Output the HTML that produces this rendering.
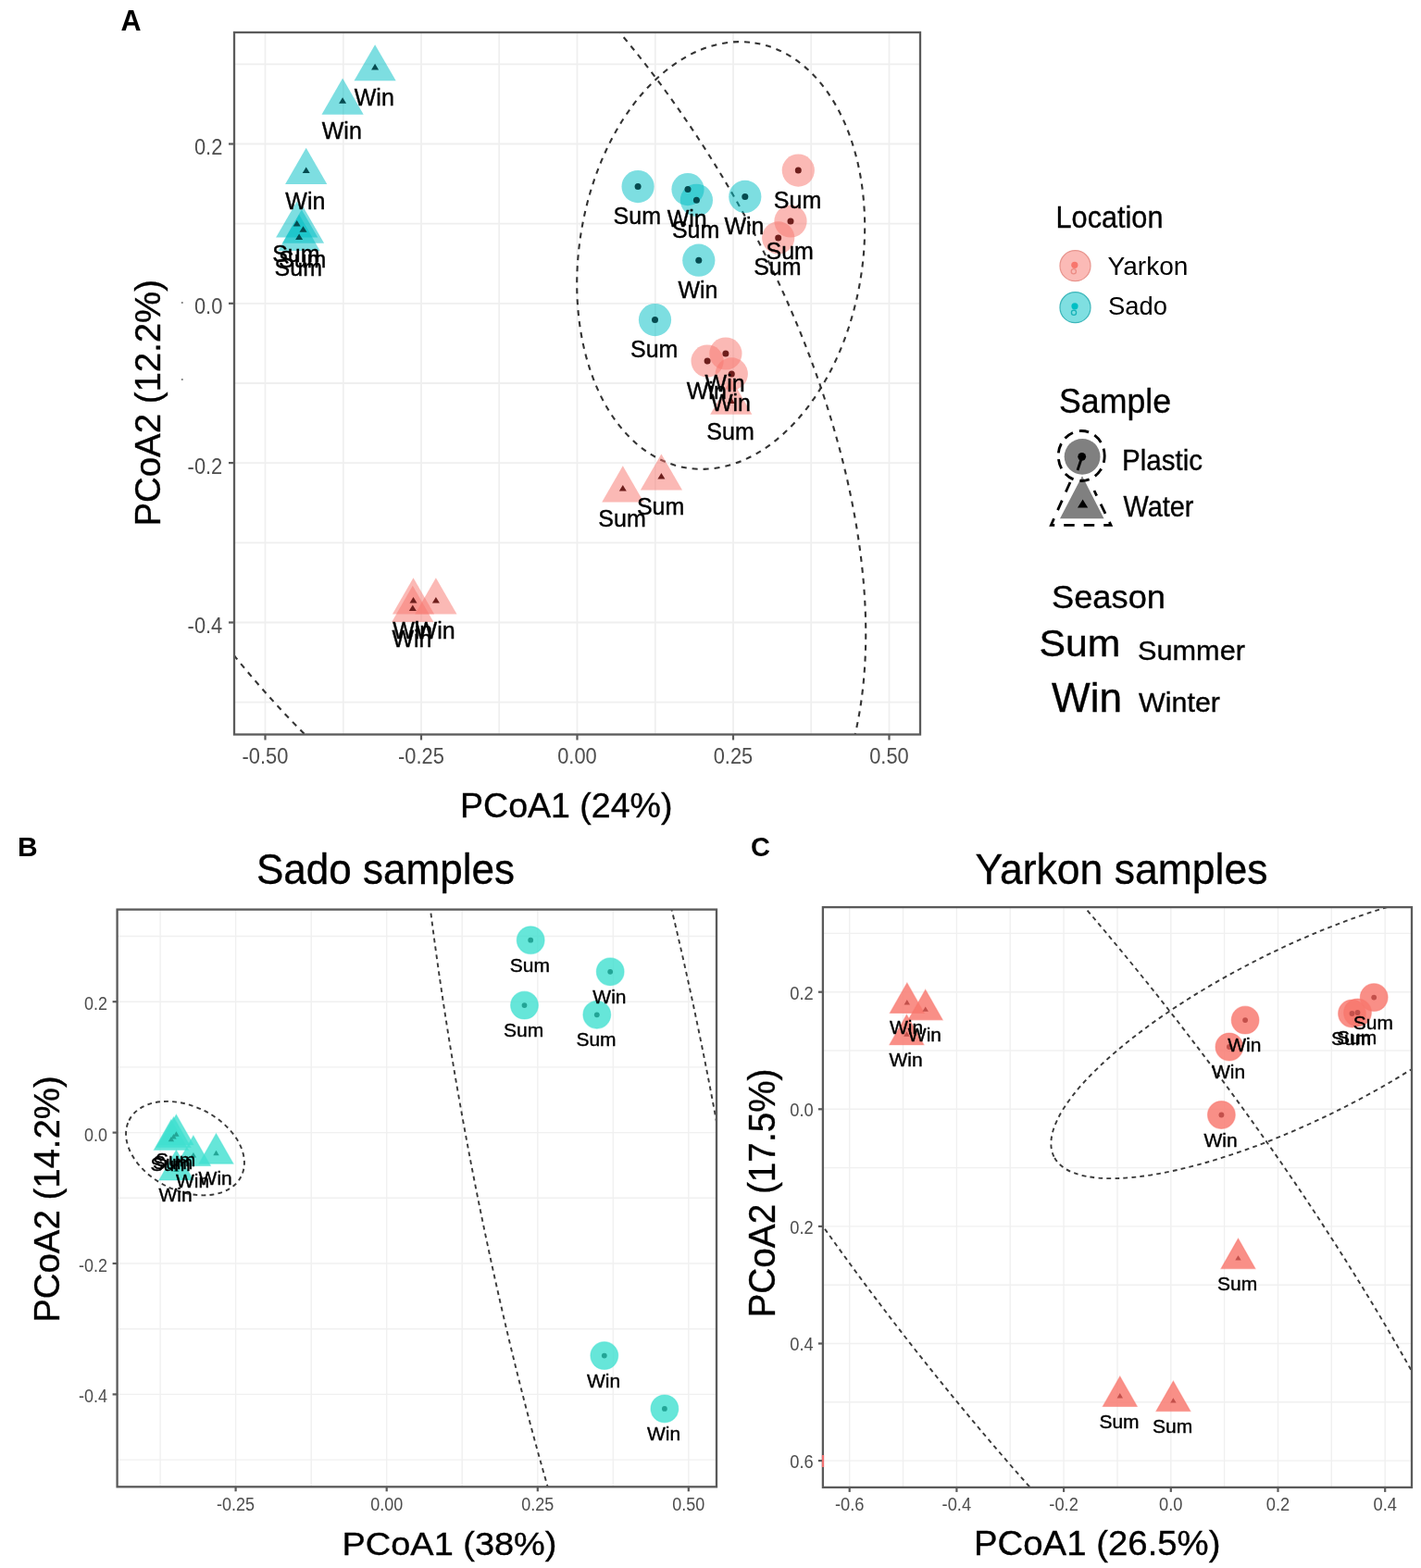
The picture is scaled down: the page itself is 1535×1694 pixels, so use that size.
<!DOCTYPE html>
<html><head><meta charset="utf-8"><title>PCoA plots</title>
<style>html,body{margin:0;padding:0;background:#fff;}svg{display:block;}</style>
</head><body>
<svg width="1535" height="1694" viewBox="0 0 1535 1694">
<rect width="1535" height="1694" fill="#fff"/>
<defs>
<clipPath id="cA"><rect x="253" y="35" width="741" height="758.5"/></clipPath>
<clipPath id="cB"><rect x="126.6" y="982.6" width="647.4" height="623.7"/></clipPath>
<clipPath id="cC"><rect x="888.9" y="980.1" width="636.1" height="626.8"/></clipPath>
</defs>
<g stroke="#EFEFEF" stroke-width="1.8" fill="none">
<line x1="286.5" y1="35" x2="286.5" y2="793.5"/>
<line x1="455.0" y1="35" x2="455.0" y2="793.5"/>
<line x1="623.5" y1="35" x2="623.5" y2="793.5"/>
<line x1="792.0" y1="35" x2="792.0" y2="793.5"/>
<line x1="960.5" y1="35" x2="960.5" y2="793.5"/>
<line x1="370.8" y1="35" x2="370.8" y2="793.5"/>
<line x1="539.2" y1="35" x2="539.2" y2="793.5"/>
<line x1="707.8" y1="35" x2="707.8" y2="793.5"/>
<line x1="876.2" y1="35" x2="876.2" y2="793.5"/>
<line x1="253" y1="155.5" x2="994" y2="155.5"/>
<line x1="253" y1="327.8" x2="994" y2="327.8"/>
<line x1="253" y1="500.1" x2="994" y2="500.1"/>
<line x1="253" y1="672.5" x2="994" y2="672.5"/>
<line x1="253" y1="69.3" x2="994" y2="69.3"/>
<line x1="253" y1="241.6" x2="994" y2="241.6"/>
<line x1="253" y1="414.0" x2="994" y2="414.0"/>
<line x1="253" y1="586.3" x2="994" y2="586.3"/>
<line x1="253" y1="758.7" x2="994" y2="758.7"/>
</g>
<g clip-path="url(#cA)">
<g fill="none" stroke="#333" stroke-width="2.1" stroke-dasharray="6 6">
<ellipse cx="778.7" cy="276.0" rx="232.5" ry="153.0" transform="rotate(-80.91 778.7 276.0)"/>
<ellipse cx="468.2" cy="380.2" rx="675.1" ry="365.0" transform="rotate(-120.87 468.2 380.2)"/>
</g>
<polygon points="405.1,48.2 427.7,87.3 382.5,87.3" fill="#00BFC4" fill-opacity="0.51"/>
<polygon points="370.1,84.6 392.7,123.7 347.5,123.7" fill="#00BFC4" fill-opacity="0.51"/>
<polygon points="330.7,159.8 353.3,198.9 308.1,198.9" fill="#00BFC4" fill-opacity="0.51"/>
<polygon points="320.7,217.4 343.3,256.5 298.1,256.5" fill="#00BFC4" fill-opacity="0.51"/>
<polygon points="327.5,223.6 350.1,262.7 304.9,262.7" fill="#00BFC4" fill-opacity="0.51"/>
<polygon points="323.1,231.8 345.7,270.9 300.5,270.9" fill="#00BFC4" fill-opacity="0.51"/>
<polygon points="789.8,408.7 812.4,447.8 767.2,447.8" fill="#F8766D" fill-opacity="0.51"/>
<polygon points="672.8,503.3 695.4,542.4 650.2,542.4" fill="#F8766D" fill-opacity="0.51"/>
<polygon points="714.4,490.4 737.0,529.5 691.8,529.5" fill="#F8766D" fill-opacity="0.51"/>
<polygon points="446.5,624.3 469.1,663.4 423.9,663.4" fill="#F8766D" fill-opacity="0.51"/>
<polygon points="445.8,632.8 468.4,671.9 423.2,671.9" fill="#F8766D" fill-opacity="0.51"/>
<polygon points="470.9,624.3 493.5,663.4 448.3,663.4" fill="#F8766D" fill-opacity="0.51"/>
<circle cx="689.1" cy="201.6" r="17.6" fill="#00BFC4" fill-opacity="0.51"/>
<circle cx="743" cy="204.6" r="17.6" fill="#00BFC4" fill-opacity="0.51"/>
<circle cx="752.4" cy="216.3" r="17.6" fill="#00BFC4" fill-opacity="0.51"/>
<circle cx="804.8" cy="212.4" r="17.6" fill="#00BFC4" fill-opacity="0.51"/>
<circle cx="754.8" cy="281.2" r="17.6" fill="#00BFC4" fill-opacity="0.51"/>
<circle cx="707.5" cy="345.6" r="17.6" fill="#00BFC4" fill-opacity="0.51"/>
<circle cx="862.3" cy="184.1" r="17.6" fill="#F8766D" fill-opacity="0.51"/>
<circle cx="854" cy="239" r="17.6" fill="#F8766D" fill-opacity="0.51"/>
<circle cx="840.7" cy="256.9" r="17.6" fill="#F8766D" fill-opacity="0.51"/>
<circle cx="764.1" cy="390.1" r="17.6" fill="#F8766D" fill-opacity="0.51"/>
<circle cx="783.9" cy="382" r="17.6" fill="#F8766D" fill-opacity="0.51"/>
<circle cx="790.3" cy="403.9" r="17.6" fill="#F8766D" fill-opacity="0.51"/>
<polygon points="405.1,68.8 409.1,75.4 401.1,75.4" fill="#054B50"/>
<polygon points="370.1,105.2 374.1,111.8 366.1,111.8" fill="#054B50"/>
<polygon points="330.7,180.4 334.7,187.0 326.7,187.0" fill="#054B50"/>
<polygon points="320.7,238.0 324.7,244.6 316.7,244.6" fill="#054B50"/>
<polygon points="327.5,244.2 331.5,250.8 323.5,250.8" fill="#054B50"/>
<polygon points="323.1,252.4 327.1,259.0 319.1,259.0" fill="#054B50"/>
<polygon points="789.8,429.3 793.8,435.9 785.8,435.9" fill="#6E1E1C"/>
<polygon points="672.8,523.9 676.8,530.5 668.8,530.5" fill="#6E1E1C"/>
<polygon points="714.4,511.0 718.4,517.6 710.4,517.6" fill="#6E1E1C"/>
<polygon points="446.5,644.9 450.5,651.5 442.5,651.5" fill="#6E1E1C"/>
<polygon points="445.8,653.4 449.8,660.0 441.8,660.0" fill="#6E1E1C"/>
<polygon points="470.9,644.9 474.9,651.5 466.9,651.5" fill="#6E1E1C"/>
<circle cx="689.1" cy="201.6" r="3.5" fill="#054B50"/>
<circle cx="743" cy="204.6" r="3.5" fill="#054B50"/>
<circle cx="752.4" cy="216.3" r="3.5" fill="#054B50"/>
<circle cx="804.8" cy="212.4" r="3.5" fill="#054B50"/>
<circle cx="754.8" cy="281.2" r="3.5" fill="#054B50"/>
<circle cx="707.5" cy="345.6" r="3.5" fill="#054B50"/>
<circle cx="862.3" cy="184.1" r="3.5" fill="#6E1E1C"/>
<circle cx="854" cy="239" r="3.5" fill="#6E1E1C"/>
<circle cx="840.7" cy="256.9" r="3.5" fill="#6E1E1C"/>
<circle cx="764.1" cy="390.1" r="3.5" fill="#6E1E1C"/>
<circle cx="783.9" cy="382" r="3.5" fill="#6E1E1C"/>
<circle cx="790.3" cy="403.9" r="3.5" fill="#6E1E1C"/>
</g>
<g font-family="Liberation Sans, Arial, sans-serif" font-size="25" fill="#000" stroke="#000" stroke-width="0.4" text-anchor="middle">
<text x="404.3" y="114.0">Win</text>
<text x="369.3" y="150.4">Win</text>
<text x="329.9" y="225.6">Win</text>
<text x="319.9" y="283.2">Sum</text>
<text x="326.7" y="289.4">Sum</text>
<text x="322.3" y="297.6">Sum</text>
<text x="789.0" y="474.5">Sum</text>
<text x="672.0" y="569.1">Sum</text>
<text x="713.6" y="556.2">Sum</text>
<text x="445.7" y="690.1">Win</text>
<text x="445.0" y="698.6">Win</text>
<text x="470.1" y="690.1">Win</text>
<text x="688.3" y="242.1">Sum</text>
<text x="742.2" y="245.1">Win</text>
<text x="751.6" y="256.8">Sum</text>
<text x="804.0" y="252.9">Win</text>
<text x="754.0" y="321.7">Win</text>
<text x="706.7" y="386.1">Sum</text>
<text x="861.5" y="224.6">Sum</text>
<text x="853.2" y="279.5">Sum</text>
<text x="839.9" y="297.4">Sum</text>
<text x="763.3" y="430.6">Win</text>
<text x="783.1" y="422.5">Win</text>
<text x="789.5" y="444.4">Win</text>
</g>
<rect x="253" y="35" width="741.0" height="758.5" fill="none" stroke="#5a5a5a" stroke-width="2.3"/>
<g stroke="#5a5a5a" stroke-width="2.2">
<line x1="286.5" y1="793.5" x2="286.5" y2="799.5"/>
<line x1="455.0" y1="793.5" x2="455.0" y2="799.5"/>
<line x1="623.5" y1="793.5" x2="623.5" y2="799.5"/>
<line x1="792.0" y1="793.5" x2="792.0" y2="799.5"/>
<line x1="960.5" y1="793.5" x2="960.5" y2="799.5"/>
<line x1="247" y1="155.5" x2="253" y2="155.5"/>
<line x1="247" y1="327.8" x2="253" y2="327.8"/>
<line x1="247" y1="500.1" x2="253" y2="500.1"/>
<line x1="247" y1="672.5" x2="253" y2="672.5"/>
</g>
<g font-family="Liberation Sans, Arial, sans-serif" font-size="23.5" fill="#4D4D4D">
<text x="261.6" y="824.8" textLength="49.8" lengthAdjust="spacingAndGlyphs">-0.50</text>
<text x="430.1" y="824.8" textLength="49.8" lengthAdjust="spacingAndGlyphs">-0.25</text>
<text x="602.2" y="824.8" textLength="42.5" lengthAdjust="spacingAndGlyphs">0.00</text>
<text x="770.7" y="824.8" textLength="42.5" lengthAdjust="spacingAndGlyphs">0.25</text>
<text x="939.2" y="824.8" textLength="42.5" lengthAdjust="spacingAndGlyphs">0.50</text>
<text x="209.9" y="166.9" textLength="30.4" lengthAdjust="spacingAndGlyphs">0.2</text>
<text x="209.9" y="339.2" textLength="30.4" lengthAdjust="spacingAndGlyphs">0.0</text>
<text x="202.6" y="511.5" textLength="37.7" lengthAdjust="spacingAndGlyphs">-0.2</text>
<text x="202.6" y="683.9" textLength="37.7" lengthAdjust="spacingAndGlyphs">-0.4</text>
</g>
<circle cx="196.8" cy="327" r="1.1" fill="#777"/><circle cx="196.8" cy="410" r="1.1" fill="#777"/>
<text font-family="Liberation Sans, Arial, sans-serif" font-size="36.7" x="497" y="883.1" textLength="229.5" lengthAdjust="spacingAndGlyphs" stroke="#000" stroke-width="0.35">PCoA1 (24%)</text>
<text font-family="Liberation Sans, Arial, sans-serif" font-size="38" transform="translate(172.5 568.5) rotate(-90)" textLength="266.5" lengthAdjust="spacingAndGlyphs" stroke="#000" stroke-width="0.35">PCoA2 (12.2%)</text>
<text font-family="Liberation Sans, Arial, sans-serif" font-size="30.5" font-weight="bold" x="130.5" y="33.1">A</text>
<g font-family="Liberation Sans, Arial, sans-serif" fill="#000" stroke="#000" stroke-width="0.35">
<text x="1140.5" y="246.1" font-size="33" textLength="116" lengthAdjust="spacingAndGlyphs">Location</text>
<text x="1196.5" y="296.9" font-size="27.6" textLength="87" lengthAdjust="spacingAndGlyphs" stroke-width="0">Yarkon</text>
<text x="1197" y="339.7" font-size="27.6" textLength="64" lengthAdjust="spacingAndGlyphs" stroke-width="0">Sado</text>
<text x="1144" y="445.7" font-size="37" textLength="121" lengthAdjust="spacingAndGlyphs">Sample</text>
<text x="1212" y="507.6" font-size="30.7" textLength="87" lengthAdjust="spacingAndGlyphs">Plastic</text>
<text x="1213.5" y="558.4" font-size="30.7" textLength="76" lengthAdjust="spacingAndGlyphs">Water</text>
<text x="1136" y="656.6" font-size="35.5" textLength="123" lengthAdjust="spacingAndGlyphs">Season</text>
<text x="1122.5" y="709.1" font-size="41.5" textLength="88" lengthAdjust="spacingAndGlyphs">Sum</text>
<text x="1229" y="712.5" font-size="30" textLength="116" lengthAdjust="spacingAndGlyphs">Summer</text>
<text x="1136" y="769.2" font-size="44" textLength="76" lengthAdjust="spacingAndGlyphs">Win</text>
<text x="1230" y="769.2" font-size="29.6" textLength="88" lengthAdjust="spacingAndGlyphs">Winter</text>
</g>
<circle cx="1161.5" cy="287.2" r="16.5" fill="#F8766D" fill-opacity="0.5" stroke="#E8958E" stroke-width="1.2"/>
<circle cx="1160.8" cy="286.3" r="3.6" fill="#F8766D"/>
<circle cx="1159.8" cy="293.2" r="2.6" fill="none" stroke="#EC8C85" stroke-width="1.3"/>
<circle cx="1161.5" cy="332.2" r="16.5" fill="#00BFC4" fill-opacity="0.5" stroke="#3CB6BA" stroke-width="1.2"/>
<circle cx="1161" cy="330.8" r="3.6" fill="#00BFC4"/>
<circle cx="1160" cy="337.8" r="2.6" fill="none" stroke="#19B3B8" stroke-width="1.3"/>
<circle cx="1169.1" cy="493.3" r="19.4" fill="#808080"/>
<polygon points="1169,514.3 1192.5,560.2 1145,560.2" fill="#808080"/>
<ellipse cx="1168.2" cy="492.5" rx="25" ry="27" fill="none" stroke="#000" stroke-width="2.8" stroke-dasharray="10.5 7" stroke-dashoffset="3"/>
<circle cx="1168.7" cy="493.3" r="4.4" fill="#000"/>
<line x1="1168.7" y1="494" x2="1164" y2="508" stroke="#000" stroke-width="2.8"/>
<polygon points="1169.6,539.5 1175.2,548.6 1164.0,548.6" fill="#000"/>
<polyline points="1156,521 1135.4,567.3 1200,567.3 1182,530" fill="none" stroke="#000" stroke-width="2.8" stroke-dasharray="11.5 10"/>
<g stroke="#F0F0F0" stroke-width="1.4" fill="none">
<line x1="254.6" y1="982.6" x2="254.6" y2="1606.3"/>
<line x1="417.7" y1="982.6" x2="417.7" y2="1606.3"/>
<line x1="580.8" y1="982.6" x2="580.8" y2="1606.3"/>
<line x1="743.8" y1="982.6" x2="743.8" y2="1606.3"/>
<line x1="173.1" y1="982.6" x2="173.1" y2="1606.3"/>
<line x1="336.2" y1="982.6" x2="336.2" y2="1606.3"/>
<line x1="499.2" y1="982.6" x2="499.2" y2="1606.3"/>
<line x1="662.3" y1="982.6" x2="662.3" y2="1606.3"/>
<line x1="126.6" y1="1082.2" x2="774" y2="1082.2"/>
<line x1="126.6" y1="1223.6" x2="774" y2="1223.6"/>
<line x1="126.6" y1="1365.0" x2="774" y2="1365.0"/>
<line x1="126.6" y1="1506.4" x2="774" y2="1506.4"/>
<line x1="126.6" y1="1011.5" x2="774" y2="1011.5"/>
<line x1="126.6" y1="1152.9" x2="774" y2="1152.9"/>
<line x1="126.6" y1="1294.3" x2="774" y2="1294.3"/>
<line x1="126.6" y1="1435.7" x2="774" y2="1435.7"/>
<line x1="126.6" y1="1577.1" x2="774" y2="1577.1"/>
</g>
<g clip-path="url(#cB)">
<g fill="none" stroke="#3a3a3a" stroke-width="1.9" stroke-dasharray="4.8 4.2">
<ellipse cx="200.0" cy="1240.6" rx="67.7" ry="45.6" transform="rotate(-153.57 200.0 1240.6)"/>
<ellipse cx="637.9" cy="1215.8" rx="779.0" ry="134.5" transform="rotate(-100.69 637.9 1215.8)"/>
</g>
<polygon points="190.4,1204.2 208.9,1236.7 171.9,1236.7" fill="#40E0D0" fill-opacity="0.8" stroke="#40E0D0" stroke-opacity="0.45" stroke-width="1.2"/>
<polygon points="184.9,1209.8 203.4,1242.3 166.4,1242.3" fill="#40E0D0" fill-opacity="0.8" stroke="#40E0D0" stroke-opacity="0.45" stroke-width="1.2"/>
<polygon points="187.5,1207.0 206.0,1239.5 169.0,1239.5" fill="#40E0D0" fill-opacity="0.8" stroke="#40E0D0" stroke-opacity="0.45" stroke-width="1.2"/>
<polygon points="208.9,1227.0 227.4,1259.5 190.4,1259.5" fill="#40E0D0" fill-opacity="0.8" stroke="#40E0D0" stroke-opacity="0.45" stroke-width="1.2"/>
<polygon points="233.5,1224.7 252.0,1257.2 215.0,1257.2" fill="#40E0D0" fill-opacity="0.8" stroke="#40E0D0" stroke-opacity="0.45" stroke-width="1.2"/>
<polygon points="190.4,1242.5 208.9,1275.0 171.9,1275.0" fill="#40E0D0" fill-opacity="0.8" stroke="#40E0D0" stroke-opacity="0.45" stroke-width="1.2"/>
<circle cx="573.2" cy="1015.7" r="14.9" fill="#40E0D0" fill-opacity="0.8" stroke="#40E0D0" stroke-opacity="0.45" stroke-width="1.2"/>
<circle cx="659.2" cy="1049.8" r="14.9" fill="#40E0D0" fill-opacity="0.8" stroke="#40E0D0" stroke-opacity="0.45" stroke-width="1.2"/>
<circle cx="566.5" cy="1086.1" r="14.9" fill="#40E0D0" fill-opacity="0.8" stroke="#40E0D0" stroke-opacity="0.45" stroke-width="1.2"/>
<circle cx="644.8" cy="1096.3" r="14.9" fill="#40E0D0" fill-opacity="0.8" stroke="#40E0D0" stroke-opacity="0.45" stroke-width="1.2"/>
<circle cx="652.8" cy="1464.6" r="14.9" fill="#40E0D0" fill-opacity="0.8" stroke="#40E0D0" stroke-opacity="0.45" stroke-width="1.2"/>
<circle cx="717.9" cy="1521.9" r="14.9" fill="#40E0D0" fill-opacity="0.8" stroke="#40E0D0" stroke-opacity="0.45" stroke-width="1.2"/>
<polygon points="190.4,1222.3 193.6,1227.7 187.2,1227.7" fill="#23A596"/>
<polygon points="184.9,1227.9 188.1,1233.3 181.7,1233.3" fill="#23A596"/>
<polygon points="187.5,1225.1 190.7,1230.5 184.3,1230.5" fill="#23A596"/>
<polygon points="208.9,1245.1 212.1,1250.5 205.7,1250.5" fill="#23A596"/>
<polygon points="233.5,1242.8 236.7,1248.2 230.3,1248.2" fill="#23A596"/>
<polygon points="190.4,1260.6 193.6,1266.0 187.2,1266.0" fill="#23A596"/>
<circle cx="573.2" cy="1015.7" r="2.9" fill="#23A596"/>
<circle cx="659.2" cy="1049.8" r="2.9" fill="#23A596"/>
<circle cx="566.5" cy="1086.1" r="2.9" fill="#23A596"/>
<circle cx="644.8" cy="1096.3" r="2.9" fill="#23A596"/>
<circle cx="652.8" cy="1464.6" r="2.9" fill="#23A596"/>
<circle cx="717.9" cy="1521.9" r="2.9" fill="#23A596"/>
</g>
<g font-family="Liberation Sans, Arial, sans-serif" font-size="21" fill="#000" stroke="#000" stroke-width="0.4" text-anchor="middle">
<text x="189.6" y="1259.7">Sum</text>
<text x="184.1" y="1265.3">Sum</text>
<text x="186.7" y="1262.5">Sum</text>
<text x="208.1" y="1282.5">Win</text>
<text x="232.7" y="1280.2">Win</text>
<text x="189.6" y="1298.0">Win</text>
<text x="572.4" y="1049.7">Sum</text>
<text x="658.4" y="1083.8">Win</text>
<text x="565.7" y="1120.1">Sum</text>
<text x="644.0" y="1130.3">Sum</text>
<text x="652.0" y="1498.6">Win</text>
<text x="717.1" y="1555.9">Win</text>
</g>
<rect x="126.6" y="982.6" width="647.4" height="623.7" fill="none" stroke="#5a5a5a" stroke-width="2.3"/>
<g stroke="#5a5a5a" stroke-width="2.2">
<line x1="254.6" y1="1606.3" x2="254.6" y2="1611.3"/>
<line x1="417.7" y1="1606.3" x2="417.7" y2="1611.3"/>
<line x1="580.8" y1="1606.3" x2="580.8" y2="1611.3"/>
<line x1="743.8" y1="1606.3" x2="743.8" y2="1611.3"/>
<line x1="121.6" y1="1082.2" x2="126.6" y2="1082.2"/>
<line x1="121.6" y1="1223.6" x2="126.6" y2="1223.6"/>
<line x1="121.6" y1="1365.0" x2="126.6" y2="1365.0"/>
<line x1="121.6" y1="1506.4" x2="126.6" y2="1506.4"/>
</g>
<g font-family="Liberation Sans, Arial, sans-serif" font-size="20" fill="#4D4D4D">
<text x="234.1" y="1631.7" textLength="41.0" lengthAdjust="spacingAndGlyphs">-0.25</text>
<text x="400.2" y="1631.7" textLength="35.0" lengthAdjust="spacingAndGlyphs">0.00</text>
<text x="563.3" y="1631.7" textLength="35.0" lengthAdjust="spacingAndGlyphs">0.25</text>
<text x="726.3" y="1631.7" textLength="35.0" lengthAdjust="spacingAndGlyphs">0.50</text>
<text x="91.1" y="1091.2" textLength="25.0" lengthAdjust="spacingAndGlyphs">0.2</text>
<text x="91.1" y="1232.6" textLength="25.0" lengthAdjust="spacingAndGlyphs">0.0</text>
<text x="85.1" y="1374.0" textLength="31.0" lengthAdjust="spacingAndGlyphs">-0.2</text>
<text x="85.1" y="1515.4" textLength="31.0" lengthAdjust="spacingAndGlyphs">-0.4</text>
</g>
<text font-family="Liberation Sans, Arial, sans-serif" font-size="35.5" x="369.5" y="1680.1" textLength="232" lengthAdjust="spacingAndGlyphs" stroke="#000" stroke-width="0.35">PCoA1 (38%)</text>
<text font-family="Liberation Sans, Arial, sans-serif" font-size="38.5" transform="translate(64.3 1428.8) rotate(-90)" textLength="266.5" lengthAdjust="spacingAndGlyphs" stroke="#000" stroke-width="0.35">PCoA2 (14.2%)</text>
<text font-family="Liberation Sans, Arial, sans-serif" font-size="46.5" x="277" y="955.4" textLength="279" stroke="#000" stroke-width="0.35" lengthAdjust="spacingAndGlyphs">Sado samples</text>
<text font-family="Liberation Sans, Arial, sans-serif" font-size="30" font-weight="bold" x="19" y="925">B</text>
<g stroke="#F0F0F0" stroke-width="1.4" fill="none">
<line x1="917.7" y1="980.1" x2="917.7" y2="1606.9"/>
<line x1="1033.4" y1="980.1" x2="1033.4" y2="1606.9"/>
<line x1="1149.1" y1="980.1" x2="1149.1" y2="1606.9"/>
<line x1="1264.8" y1="980.1" x2="1264.8" y2="1606.9"/>
<line x1="1380.5" y1="980.1" x2="1380.5" y2="1606.9"/>
<line x1="1496.2" y1="980.1" x2="1496.2" y2="1606.9"/>
<line x1="975.5" y1="980.1" x2="975.5" y2="1606.9"/>
<line x1="1091.2" y1="980.1" x2="1091.2" y2="1606.9"/>
<line x1="1207.0" y1="980.1" x2="1207.0" y2="1606.9"/>
<line x1="1322.6" y1="980.1" x2="1322.6" y2="1606.9"/>
<line x1="1438.3" y1="980.1" x2="1438.3" y2="1606.9"/>
<line x1="888.9" y1="1071.7" x2="1525" y2="1071.7"/>
<line x1="888.9" y1="1198.3" x2="1525" y2="1198.3"/>
<line x1="888.9" y1="1324.9" x2="1525" y2="1324.9"/>
<line x1="888.9" y1="1451.5" x2="1525" y2="1451.5"/>
<line x1="888.9" y1="1578.1" x2="1525" y2="1578.1"/>
<line x1="888.9" y1="1008.4" x2="1525" y2="1008.4"/>
<line x1="888.9" y1="1135.0" x2="1525" y2="1135.0"/>
<line x1="888.9" y1="1261.6" x2="1525" y2="1261.6"/>
<line x1="888.9" y1="1388.2" x2="1525" y2="1388.2"/>
<line x1="888.9" y1="1514.8" x2="1525" y2="1514.8"/>
</g>
<g clip-path="url(#cC)">
<g fill="none" stroke="#3a3a3a" stroke-width="1.9" stroke-dasharray="4.8 4.2">
<ellipse cx="1405.0" cy="1116.7" rx="297.8" ry="92.2" transform="rotate(153.49 1405.0 1116.7)"/>
<ellipse cx="1124.0" cy="1272.7" rx="865.0" ry="220.5" transform="rotate(-127.04 1124.0 1272.7)"/>
</g>
<polygon points="979.8,1061.9 998.3,1094.4 961.3,1094.4" fill="#F8766D" fill-opacity="0.82" stroke="#F8766D" stroke-opacity="0.45" stroke-width="1.2"/>
<polygon points="999.7,1069.3 1018.2,1101.8 981.2,1101.8" fill="#F8766D" fill-opacity="0.82" stroke="#F8766D" stroke-opacity="0.45" stroke-width="1.2"/>
<polygon points="979.4,1096.2 997.9,1128.7 960.9,1128.7" fill="#F8766D" fill-opacity="0.82" stroke="#F8766D" stroke-opacity="0.45" stroke-width="1.2"/>
<polygon points="1337.5,1338.1 1356.0,1370.6 1319.0,1370.6" fill="#F8766D" fill-opacity="0.82" stroke="#F8766D" stroke-opacity="0.45" stroke-width="1.2"/>
<polygon points="1209.8,1487.0 1228.3,1519.5 1191.3,1519.5" fill="#F8766D" fill-opacity="0.82" stroke="#F8766D" stroke-opacity="0.45" stroke-width="1.2"/>
<polygon points="1267.4,1492.1 1285.9,1524.6 1248.9,1524.6" fill="#F8766D" fill-opacity="0.82" stroke="#F8766D" stroke-opacity="0.45" stroke-width="1.2"/>
<circle cx="1345.1" cy="1102.1" r="14.9" fill="#F8766D" fill-opacity="0.82" stroke="#F8766D" stroke-opacity="0.45" stroke-width="1.2"/>
<circle cx="1327.9" cy="1131" r="14.9" fill="#F8766D" fill-opacity="0.82" stroke="#F8766D" stroke-opacity="0.45" stroke-width="1.2"/>
<circle cx="1484.2" cy="1077.6" r="14.9" fill="#F8766D" fill-opacity="0.82" stroke="#F8766D" stroke-opacity="0.45" stroke-width="1.2"/>
<circle cx="1460.5" cy="1095" r="14.9" fill="#F8766D" fill-opacity="0.82" stroke="#F8766D" stroke-opacity="0.45" stroke-width="1.2"/>
<circle cx="1466.5" cy="1094" r="14.9" fill="#F8766D" fill-opacity="0.82" stroke="#F8766D" stroke-opacity="0.45" stroke-width="1.2"/>
<circle cx="1319.4" cy="1204.5" r="14.9" fill="#F8766D" fill-opacity="0.82" stroke="#F8766D" stroke-opacity="0.45" stroke-width="1.2"/>
<polygon points="979.8,1080.0 983.0,1085.4 976.6,1085.4" fill="#C3504B"/>
<polygon points="999.7,1087.4 1002.9,1092.8 996.5,1092.8" fill="#C3504B"/>
<polygon points="979.4,1114.3 982.6,1119.7 976.2,1119.7" fill="#C3504B"/>
<polygon points="1337.5,1356.2 1340.7,1361.6 1334.3,1361.6" fill="#C3504B"/>
<polygon points="1209.8,1505.1 1213.0,1510.5 1206.6,1510.5" fill="#C3504B"/>
<polygon points="1267.4,1510.2 1270.6,1515.6 1264.2,1515.6" fill="#C3504B"/>
<circle cx="1345.1" cy="1102.1" r="2.9" fill="#C3504B"/>
<circle cx="1327.9" cy="1131" r="2.9" fill="#C3504B"/>
<circle cx="1484.2" cy="1077.6" r="2.9" fill="#C3504B"/>
<circle cx="1460.5" cy="1095" r="2.9" fill="#C3504B"/>
<circle cx="1466.5" cy="1094" r="2.9" fill="#C3504B"/>
<circle cx="1319.4" cy="1204.5" r="2.9" fill="#C3504B"/>
</g>
<g font-family="Liberation Sans, Arial, sans-serif" font-size="21" fill="#000" stroke="#000" stroke-width="0.4" text-anchor="middle">
<text x="979.0" y="1117.4">Win</text>
<text x="998.9" y="1124.8">Win</text>
<text x="978.6" y="1151.7">Win</text>
<text x="1336.7" y="1393.6">Sum</text>
<text x="1209.0" y="1542.5">Sum</text>
<text x="1266.6" y="1547.6">Sum</text>
<text x="1344.3" y="1136.1">Win</text>
<text x="1327.1" y="1165.0">Win</text>
<text x="1483.4" y="1111.6">Sum</text>
<text x="1459.7" y="1129.0">Sum</text>
<text x="1465.7" y="1128.0">Sum</text>
<text x="1318.6" y="1238.5">Win</text>
</g>
<rect x="888.9" y="980.1" width="636.1" height="626.8" fill="none" stroke="#5a5a5a" stroke-width="2.3"/>
<g stroke="#5a5a5a" stroke-width="2.2">
<line x1="917.7" y1="1606.9" x2="917.7" y2="1611.9"/>
<line x1="1033.4" y1="1606.9" x2="1033.4" y2="1611.9"/>
<line x1="1149.1" y1="1606.9" x2="1149.1" y2="1611.9"/>
<line x1="1264.8" y1="1606.9" x2="1264.8" y2="1611.9"/>
<line x1="1380.5" y1="1606.9" x2="1380.5" y2="1611.9"/>
<line x1="1496.2" y1="1606.9" x2="1496.2" y2="1611.9"/>
<line x1="883.9" y1="1071.7" x2="888.9" y2="1071.7"/>
<line x1="883.9" y1="1198.3" x2="888.9" y2="1198.3"/>
<line x1="883.9" y1="1324.9" x2="888.9" y2="1324.9"/>
<line x1="883.9" y1="1451.5" x2="888.9" y2="1451.5"/>
<line x1="883.9" y1="1578.1" x2="888.9" y2="1578.1"/>
</g>
<g font-family="Liberation Sans, Arial, sans-serif" font-size="20" fill="#4D4D4D">
<text x="901.9" y="1632.2" textLength="31.5" lengthAdjust="spacingAndGlyphs">-0.6</text>
<text x="1017.6" y="1632.2" textLength="31.5" lengthAdjust="spacingAndGlyphs">-0.4</text>
<text x="1133.3" y="1632.2" textLength="31.5" lengthAdjust="spacingAndGlyphs">-0.2</text>
<text x="1252.1" y="1632.2" textLength="25.4" lengthAdjust="spacingAndGlyphs">0.0</text>
<text x="1367.8" y="1632.2" textLength="25.4" lengthAdjust="spacingAndGlyphs">0.2</text>
<text x="1483.5" y="1632.2" textLength="25.4" lengthAdjust="spacingAndGlyphs">0.4</text>
<text x="853.3" y="1079.6" textLength="25.4" lengthAdjust="spacingAndGlyphs">0.2</text>
<text x="853.3" y="1206.2" textLength="25.4" lengthAdjust="spacingAndGlyphs">0.0</text>
<text x="853.3" y="1332.8" textLength="25.4" lengthAdjust="spacingAndGlyphs">0.2</text>
<text x="853.3" y="1459.4" textLength="25.4" lengthAdjust="spacingAndGlyphs">0.4</text>
<text x="853.3" y="1586.0" textLength="25.4" lengthAdjust="spacingAndGlyphs">0.6</text>
</g>
<line x1="889" y1="1572" x2="889" y2="1585" stroke="#F07070" stroke-width="2.2"/>
<text font-family="Liberation Sans, Arial, sans-serif" font-size="37.5" x="1052" y="1680.2" textLength="266.5" lengthAdjust="spacingAndGlyphs" stroke="#000" stroke-width="0.35">PCoA1 (26.5%)</text>
<text font-family="Liberation Sans, Arial, sans-serif" font-size="40.5" transform="translate(836.7 1423.5) rotate(-90)" textLength="269" lengthAdjust="spacingAndGlyphs" stroke="#000" stroke-width="0.35">PCoA2 (17.5%)</text>
<text font-family="Liberation Sans, Arial, sans-serif" font-size="46.5" x="1053.5" y="955.4" textLength="316" stroke="#000" stroke-width="0.35" lengthAdjust="spacingAndGlyphs">Yarkon samples</text>
<text font-family="Liberation Sans, Arial, sans-serif" font-size="29" font-weight="bold" x="811" y="925.3">C</text>
</svg>
</body></html>
